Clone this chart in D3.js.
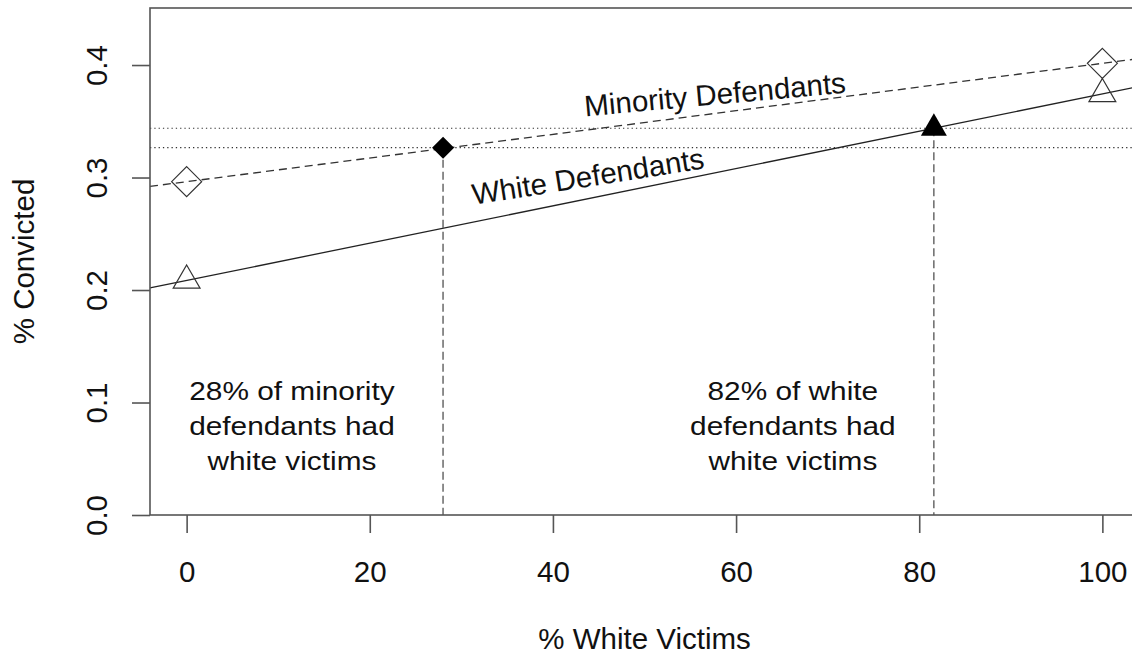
<!DOCTYPE html>
<html>
<head>
<meta charset="utf-8">
<script src="https://cdn.jsdelivr.net/npm/d3@7"></script>
<style>
  body { margin: 0; background: #fff; }
  text { font-family: "Liberation Sans", Arial, sans-serif; fill: #111; }
</style>
</head>
<body>
<div id="container"></div>
<script>
// values
const victimPct = [0, 100];
const minorityConv = [0.2963, 0.4015];
const whiteConv = [0.2085, 0.3743];
const marginalPct = [28, 81.6];        // minority, white
const marginalConv = [0.3265, 0.3438]; // minority, white
const groupLabels = ["Minority Defendants", "White Defendants"];
const labelPos = [[57.8, 0.3649], [44.0, 0.292]];
const notes = [
    ["28% of minority", "defendants had", "white victims"],
    ["82% of white", "defendants had", "white victims"]
];
const notePos = [[11.5, 0.1025], [66.2, 0.1025]];
const xTicks = [0, 20, 40, 60, 80, 100];
const yTicks = [0.0, 0.1, 0.2, 0.3, 0.4];

const main = (container) => {
    const W = 1132, H = 655;
    const left = 150, right = 1139, top = 8, bottom = 515;

    const svg = d3.select(container)
        .append("svg")
        .attr("width", W)
        .attr("height", H);

    const x = d3.scaleLinear().domain([-4, 104]).range([left, right]);
    const y = d3.scaleLinear().domain([0, 0.4507]).range([bottom, top]);

    const line = d3.line().x(d => x(d[0])).y(d => y(d[1]));

    // straight lines through the two end points, across the whole plot
    const ext = (vals) => {
        const f = d3.scaleLinear().domain(victimPct).range(vals);
        return [[-4, f(-4)], [104, f(104)]];
    };

    // dotted reference lines at the marginal rates
    marginalConv.forEach(v => {
        svg.append("path")
            .attr("d", line([[-4, v], [104, v]]))
            .attr("stroke", "#333")
            .attr("stroke-width", 1.2)
            .attr("stroke-dasharray", "1.3,3")
            .attr("fill", "none");
    });

    // dashed drop lines
    marginalPct.forEach((p, i) => {
        svg.append("path")
            .attr("d", line([[p, marginalConv[i]], [p, 0]]))
            .attr("stroke", "#444")
            .attr("stroke-width", 1.2)
            .attr("stroke-dasharray", "8,4")
            .attr("fill", "none");
    });

    svg.append("path")
        .attr("d", line(ext(minorityConv)))
        .attr("stroke", "#333")
        .attr("stroke-width", 1.3)
        .attr("stroke-dasharray", "8,5")
        .attr("fill", "none");

    svg.append("path")
        .attr("d", line(ext(whiteConv)))
        .attr("stroke", "#222")
        .attr("stroke-width", 1.3)
        .attr("fill", "none");

    // symbols
    const diamond = (cx, cy, r) => `M${cx},${cy - r}L${cx + r},${cy}L${cx},${cy + r}L${cx - r},${cy}Z`;
    const triangle = (cx, cy, r) => {
        const hw = r * Math.sqrt(3) / 2;
        return `M${cx},${cy - r}L${cx + hw},${cy + r / 2}L${cx - hw},${cy + r / 2}Z`;
    };

    victimPct.forEach((p, i) => {
        svg.append("path")
            .attr("d", diamond(x(p), y(minorityConv[i]), 15))
            .attr("fill", "none")
            .attr("stroke", "#333")
            .attr("stroke-width", 1.2);
        svg.append("path")
            .attr("d", triangle(x(p), y(whiteConv[i]), 15.5))
            .attr("fill", "none")
            .attr("stroke", "#333")
            .attr("stroke-width", 1.2);
    });

    svg.append("path")
        .attr("d", diamond(x(marginalPct[0]), y(marginalConv[0]), 11))
        .attr("fill", "#000");
    svg.append("path")
        .attr("d", triangle(x(marginalPct[1]), y(marginalConv[1]), 15))
        .attr("fill", "#000");

    // box (right side falls outside the picture)
    svg.append("rect")
        .attr("x", left)
        .attr("y", top)
        .attr("width", right - left)
        .attr("height", bottom - top)
        .attr("fill", "none")
        .attr("stroke", "#555")
        .attr("stroke-width", 1.6);

    // axes
    const xAxis = svg.append("g")
        .attr("transform", `translate(0,${bottom})`)
        .call(d3.axisBottom(x).tickValues(xTicks).tickSize(18).tickPadding(28).tickFormat(d3.format("d")));
    xAxis.select(".domain").remove();
    xAxis.selectAll("line").attr("stroke", "#555").attr("stroke-width", 1.6);
    xAxis.selectAll("text")
        .attr("fill", "#111")
        .style("font-size", "29.5px")
        .style("font-family", "'Liberation Sans', Arial, sans-serif");

    const yAxis = svg.append("g")
        .attr("transform", `translate(${left},0)`)
        .call(d3.axisLeft(y).tickValues(yTicks).tickSize(18).tickFormat(d3.format(".1f")));
    yAxis.select(".domain").remove();
    yAxis.selectAll("line").attr("stroke", "#555").attr("stroke-width", 1.6);
    yAxis.selectAll("text")
        .attr("x", null)
        .attr("dy", null)
        .attr("text-anchor", "middle")
        .attr("transform", `translate(${107 - left},0) rotate(-90)`)
        .attr("fill", "#111")
        .style("font-size", "29.5px")
        .style("font-family", "'Liberation Sans', Arial, sans-serif");

    // axis titles
    svg.append("text")
        .attr("x", (left + right) / 2)
        .attr("y", 649)
        .attr("text-anchor", "middle")
        .style("font-size", "29.5px")
        .text("% White Victims");

    svg.append("text")
        .attr("transform", `translate(34,${(top + bottom) / 2}) rotate(-90)`)
        .attr("text-anchor", "middle")
        .style("font-size", "29.5px")
        .text("% Convicted");

    // line labels
    const angles = [-5.2, -9];
    groupLabels.forEach((lab, i) => {
        svg.append("text")
            .attr("transform", `translate(${x(labelPos[i][0])},${y(labelPos[i][1])}) rotate(${angles[i]})`)
            .attr("text-anchor", "middle")
            .style("font-size", "29.5px")
            .text(lab);
    });

    // notes (the reference face is a little wider than Liberation Sans)
    notes.forEach((lines, i) => {
        const t = svg.append("text")
            .attr("text-anchor", "middle")
            .attr("transform", `translate(${x(notePos[i][0])},${y(notePos[i][1])}) scale(1.16,1)`)
            .style("font-size", "25.7px");
        lines.forEach((s, j) => {
            t.append("tspan")
                .attr("x", 0)
                .attr("y", j * 35)
                .text(s);
        });
    });
};

const container = document.getElementById("container");
main(container);
</script>
</body>
</html>
